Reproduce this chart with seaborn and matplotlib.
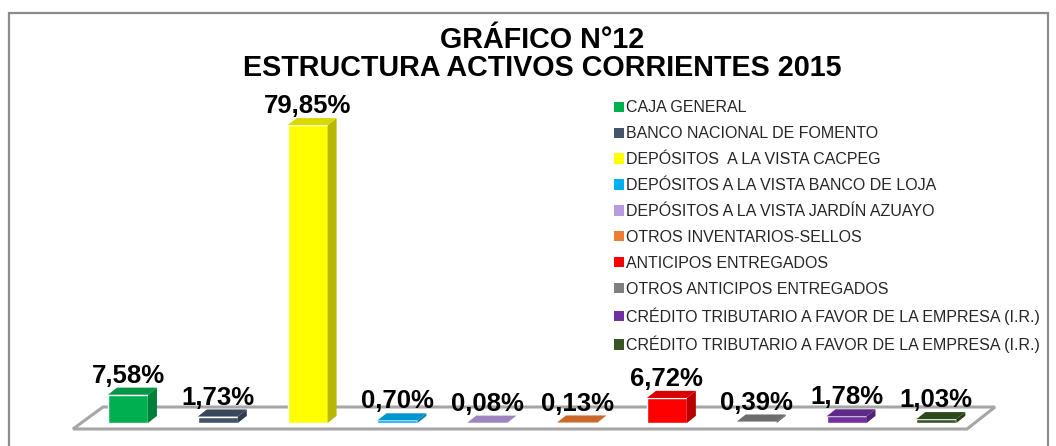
import matplotlib
matplotlib.use("Agg")
import matplotlib.pyplot as plt
from matplotlib.patches import Polygon, Rectangle, Patch
import matplotlib.colors as mcolors
import seaborn as sns
import pandas as pd
import numpy as np

# ---- data ----
categories = [
    "CAJA GENERAL",
    "BANCO NACIONAL DE FOMENTO",
    "DEPÓSITOS  A LA VISTA CACPEG",
    "DEPÓSITOS A LA VISTA BANCO DE LOJA",
    "DEPÓSITOS A LA VISTA JARDÍN AZUAYO",
    "OTROS INVENTARIOS-SELLOS",
    "ANTICIPOS ENTREGADOS",
    "OTROS ANTICIPOS ENTREGADOS",
    "CRÉDITO TRIBUTARIO A FAVOR DE LA EMPRESA (I.R.)",
    "CRÉDITO TRIBUTARIO A FAVOR DE LA EMPRESA (I.R.)",
]
values = [7.58, 1.73, 79.85, 0.70, 0.08, 0.13, 6.72, 0.39, 1.78, 1.03]
colors = ["#00B050", "#44546A", "#FFFF00", "#00B0F0", "#B79CE0",
          "#ED7D31", "#FF0000", "#808080", "#7030A0", "#375623"]
title_lines = ["GRÁFICO N°12", "ESTRUCTURA ACTIVOS CORRIENTES 2015"]

keys = [f"k{i}" for i in range(len(values))]
df = pd.DataFrame({"key": keys, "value": values})

sns.set_theme(style="white")
plt.rcParams["font.family"] = ["Liberation Sans", "DejaVu Sans"]

W, H = 1056, 446
fig = plt.figure(figsize=(W / 100, H / 100), dpi=100)
fig.patch.set_facecolor("white")

# axes placement in pixels
ax_left, ax_right, ax_top, ax_bottom = 60, 1010, 100, 433
ax = fig.add_axes([ax_left / W, (H - ax_bottom) / H,
                   (ax_right - ax_left) / W, (ax_bottom - ax_top) / H])

sns.barplot(data=df, x="key", y="value", hue="key",
            palette=dict(zip(keys, colors)), width=0.445,
            legend=False, ax=ax, saturation=1, zorder=3)

ax.set_xlim(-0.757, 9.82)
ax.set_ylim(-2.68, 86.6)
ax.axis("off")

# floor (decoration) in axes coordinates
def to_axes(px, py):
    return ((px - ax_left) / (ax_right - ax_left),
            (ax_bottom - py) / (ax_bottom - ax_top))
floor = [to_axes(73, 429), to_axes(967, 429), to_axes(995, 407), to_axes(103, 407)]
ax.add_patch(Polygon(floor, closed=True, transform=ax.transAxes,
                     facecolor="white", edgecolor="#A6A6A6", lw=2.2, zorder=1))

# pseudo 3D faces derived from the seaborn bars
bars = sorted([p for p in ax.patches if isinstance(p, Rectangle)],
              key=lambda p: p.get_x())
labels = [f"{v:.2f}".replace(".", ",") + "%" for v in values]
dx, dy = 0.10, 1.9
for p, c, lab in zip(bars, colors, labels):
    x, w, h = p.get_x(), p.get_width(), p.get_height()
    rgb = np.array(mcolors.to_rgb(c))
    side = rgb * 0.72
    top = rgb * 0.85
    ax.add_patch(Polygon([(x + w, 0), (x + w + dx, dy), (x + w + dx, h + dy), (x + w, h)],
                         closed=True, facecolor=side, edgecolor="none", zorder=3))
    ax.add_patch(Polygon([(x, h), (x + w, h), (x + w + dx, h + dy), (x + dx, h + dy)],
                         closed=True, facecolor=top, edgecolor="none", zorder=3))
    ax.annotate(lab, (x + w / 2, h), xytext=(0, 5), textcoords="offset points",
                ha="center", va="bottom", fontsize=18.5, fontweight="bold",
                color="black", zorder=5)

# title
fig.text(542 / W, 1 - 48 / H, title_lines[0], ha="center", va="baseline",
         fontsize=20.7, fontweight="bold", color="black")
fig.text(542 / W, 1 - 76 / H, title_lines[1], ha="center", va="baseline",
         fontsize=20.7, fontweight="bold", color="black")

# legend
handles = [Patch(facecolor=c, edgecolor="none") for c in colors]
fig.legend(handles=handles, labels=categories, loc="upper left",
           bbox_to_anchor=(614 / W, 1 - 100.5 / H), bbox_transform=fig.transFigure,
           frameon=False, fontsize=11.5, handlelength=0.63, handleheight=0.63,
           handletextpad=0.15, labelspacing=0.68, borderpad=0, borderaxespad=0)

# outer border
fig.patches.append(Rectangle((9 / W, -0.05), (1048 - 9) / W, 1 - 13 / H + 0.05,
                             transform=fig.transFigure, fill=False,
                             edgecolor="#8C8C8C", lw=1.6, zorder=0))

fig.savefig("out.png", dpi=100)
